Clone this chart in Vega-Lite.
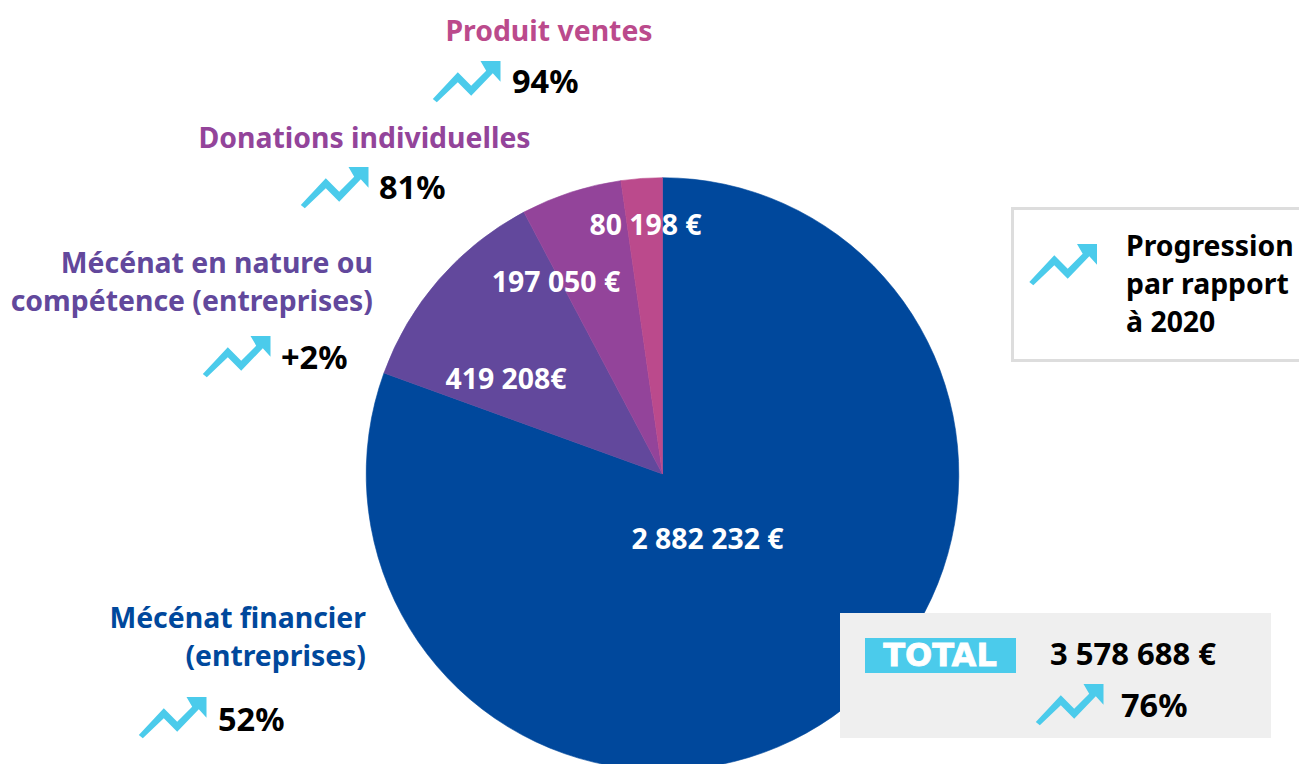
{
"$schema":"https://vega.github.io/schema/vega-lite/v6.json",
"width":1299,"height":764,"padding":0,"autosize":{"type":"none"},
"background":"white","view":{"stroke":null},
"datasets":{
"sources":[
{"source":"Mécénat financier","rank":1,"amount":2882232},
{"source":"Mécénat en nature","rank":2,"amount":419208},
{"source":"Donations individuelles","rank":3,"amount":197050},
{"source":"Produit ventes","rank":4,"amount":80198}],
"notes":[
{"n":1,"kind":"head-center","source":"Produit ventes","text":"Produit ventes"},
{"n":2,"kind":"pct","source":"note","text":"94%"},
{"n":3,"kind":"head-center","source":"Donations individuelles","text":"Donations individuelles"},
{"n":4,"kind":"pct","source":"note","text":"81%"},
{"n":5,"kind":"head-right","source":"Mécénat en nature","text":"Mécénat en nature ou"},
{"n":6,"kind":"head-right","source":"Mécénat en nature","text":"compétence (entreprises)"},
{"n":7,"kind":"pct","source":"note","text":"+2%"},
{"n":8,"kind":"head-right","source":"Mécénat financier","text":"Mécénat financier"},
{"n":9,"kind":"head-right","source":"Mécénat financier","text":"(entreprises)"},
{"n":10,"kind":"pct","source":"note","text":"52%"},
{"n":11,"kind":"key","source":"note","text":"Progression"},
{"n":12,"kind":"key","source":"note","text":"par rapport"},
{"n":13,"kind":"key","source":"note","text":"à 2020"},
{"n":14,"kind":"badge","source":"badge","text":"TOTAL"},
{"n":15,"kind":"sum","source":"note","text":"3 578 688 €"},
{"n":16,"kind":"pct","source":"note","text":"76%"},
{"n":17,"kind":"arrow"},{"n":18,"kind":"arrow"},{"n":19,"kind":"arrow"},{"n":20,"kind":"arrow"},{"n":21,"kind":"arrow"},{"n":22,"kind":"arrow"},
{"n":29,"kind":"amount","source":"badge","text":"2 882 232 €"},
{"n":30,"kind":"amount","source":"badge","text":"419 208€"},
{"n":31,"kind":"amount","source":"badge","text":"197 050 €"},
{"n":32,"kind":"amount","source":"badge","text":"80 198 €"}],
"boxes":[
{"box":"total","n":23,"n2":24},
{"box":"chip","n":25,"n2":26},
{"box":"key","n":27,"n2":28}]
},
"layer":[
{"data":{"name":"sources"},
 "mark":{"type":"arc","x":662.5,"y":474,"outerRadius":296.3,"innerRadius":0,"clip":true,"strokeWidth":0.6},
 "encoding":{
  "theta":{"field":"amount","type":"quantitative","stack":true},
  "order":{"field":"rank","type":"ordinal"},
  "stroke":{"field":"source","type":"nominal","legend":null,"scale":{"domain":["Mécénat financier","Mécénat en nature","Donations individuelles","Produit ventes"],"range":["#00489C","#62489C","#93449A","#BB4A8C"]}},
  "color":{"field":"source","type":"nominal","legend":null,"scale":{"domain":["Mécénat financier","Mécénat en nature","Donations individuelles","Produit ventes","note","badge"],"range":["#00489C","#62489C","#93449A","#BB4A8C","#000000","#FFFFFF"]}}}},
{"data":{"name":"boxes"},"transform":[{"filter":"datum.box==='total'"}],
 "mark":{"type":"rect","fill":"#EFEFEF"},
 "encoding":{"x":{"field":"n","type":"quantitative","axis":null,"scale":{"zero":false,"nice":false,"domain":[1,2,3,4,5,6,7,8,9,10,11,12,13,14,15,16,17,18,19,20,21,22,23,24,25,26,27,28,29,30,31,32],"range":[549,512,364.5,379,373,373,281,366,366,218,1126,1126,1126,940,1050,1121,467.5,335.5,237.5,173.5,1064,1070.5,840,1271,865,1016,1012.5,1320,707.5,506,556,645.5]}},
  "x2":{"field":"n2"},
  "y":{"field":"n","type":"quantitative","axis":null,"scale":{"zero":false,"nice":false,"domain":[1,2,3,4,5,6,7,8,9,10,11,12,13,14,15,16,17,18,19,20,21,22,23,24,25,26,27,28,29,30,31,32],"range":[31,82,138,188,263,301,358,618,656,720,246,284,322,655,655,706,81,187,356,717,264,704,613,738,638,673,208.5,360.5,539,379,282,225]}},
  "y2":{"field":"n2"}}},
{"data":{"name":"boxes"},"transform":[{"filter":"datum.box==='chip'"}],
 "mark":{"type":"rect","fill":"#4BCBEB"},
 "encoding":{"x":{"field":"n","type":"quantitative"},"x2":{"field":"n2"},"y":{"field":"n","type":"quantitative"},"y2":{"field":"n2"}}},
{"data":{"name":"boxes"},"transform":[{"filter":"datum.box==='key'"}],
 "mark":{"type":"rect","fill":null,"stroke":"#DDDDDD","strokeWidth":3},
 "encoding":{"x":{"field":"n","type":"quantitative"},"x2":{"field":"n2"},"y":{"field":"n","type":"quantitative"},"y2":{"field":"n2"}}},
{"data":{"name":"notes"},"transform":[{"filter":"datum.kind==='arrow'"}],
 "mark":{"type":"point","filled":true,"fill":"#4BCBEB","opacity":1,"size":4,"strokeWidth":0,
  "shape":"M-34.7,18L-9.7,-8.7L3.7,4.7L18.7,-10.3L13,-20L33,-20L33,0.7L25.3,-7.7L3.7,14.7L-9.7,1.3L-30.7,21.3Z"},
 "encoding":{"x":{"field":"n","type":"quantitative"},"y":{"field":"n","type":"quantitative"}}},
{"data":{"name":"notes"},"transform":[{"filter":"datum.kind==='amount'"}],
 "mark":{"type":"text","font":"Noto Sans","fontWeight":"bold","fontSize":28.4,"dy":1,"align":"center","baseline":"middle"},
 "encoding":{"x":{"field":"n","type":"quantitative"},"y":{"field":"n","type":"quantitative"},"text":{"field":"text"},"color":{"field":"source","type":"nominal"}}},
{"data":{"name":"notes"},"transform":[{"filter":"datum.kind==='head-center'"}],
 "mark":{"type":"text","font":"Noto Sans","fontWeight":"bold","fontSize":28.4,"dy":1,"align":"center","baseline":"middle"},
 "encoding":{"x":{"field":"n","type":"quantitative"},"y":{"field":"n","type":"quantitative"},"text":{"field":"text"},"color":{"field":"source","type":"nominal"}}},
{"data":{"name":"notes"},"transform":[{"filter":"datum.kind==='head-right'"}],
 "mark":{"type":"text","font":"Noto Sans","fontWeight":"bold","fontSize":28.4,"dy":1,"align":"right","baseline":"middle"},
 "encoding":{"x":{"field":"n","type":"quantitative"},"y":{"field":"n","type":"quantitative"},"text":{"field":"text"},"color":{"field":"source","type":"nominal"}}},
{"data":{"name":"notes"},"transform":[{"filter":"datum.kind==='pct'"}],
 "mark":{"type":"text","font":"Noto Sans","fontWeight":"bold","fontSize":32.5,"dy":1,"align":"left","baseline":"middle"},
 "encoding":{"x":{"field":"n","type":"quantitative"},"y":{"field":"n","type":"quantitative"},"text":{"field":"text"},"color":{"field":"source","type":"nominal"}}},
{"data":{"name":"notes"},"transform":[{"filter":"datum.kind==='key'"}],
 "mark":{"type":"text","font":"Noto Sans","fontWeight":"bold","fontSize":28.4,"dy":1,"align":"left","baseline":"middle"},
 "encoding":{"x":{"field":"n","type":"quantitative"},"y":{"field":"n","type":"quantitative"},"text":{"field":"text"},"color":{"field":"source","type":"nominal"}}},
{"data":{"name":"notes"},"transform":[{"filter":"datum.kind==='sum'"}],
 "mark":{"type":"text","font":"Noto Sans","fontWeight":"bold","fontSize":31,"dy":1,"align":"left","baseline":"middle"},
 "encoding":{"x":{"field":"n","type":"quantitative"},"y":{"field":"n","type":"quantitative"},"text":{"field":"text"},"color":{"field":"source","type":"nominal"}}},
{"data":{"name":"notes"},"transform":[{"filter":"datum.kind==='badge'"}],
 "mark":{"type":"text","font":"DejaVu Sans","fontWeight":"bold","fontSize":32,"dy":1,"align":"center","baseline":"middle","stroke":"#FFFFFF","strokeWidth":0.8},
 "encoding":{"x":{"field":"n","type":"quantitative"},"y":{"field":"n","type":"quantitative"},"text":{"field":"text"},"color":{"field":"source","type":"nominal"}}}
]
}
